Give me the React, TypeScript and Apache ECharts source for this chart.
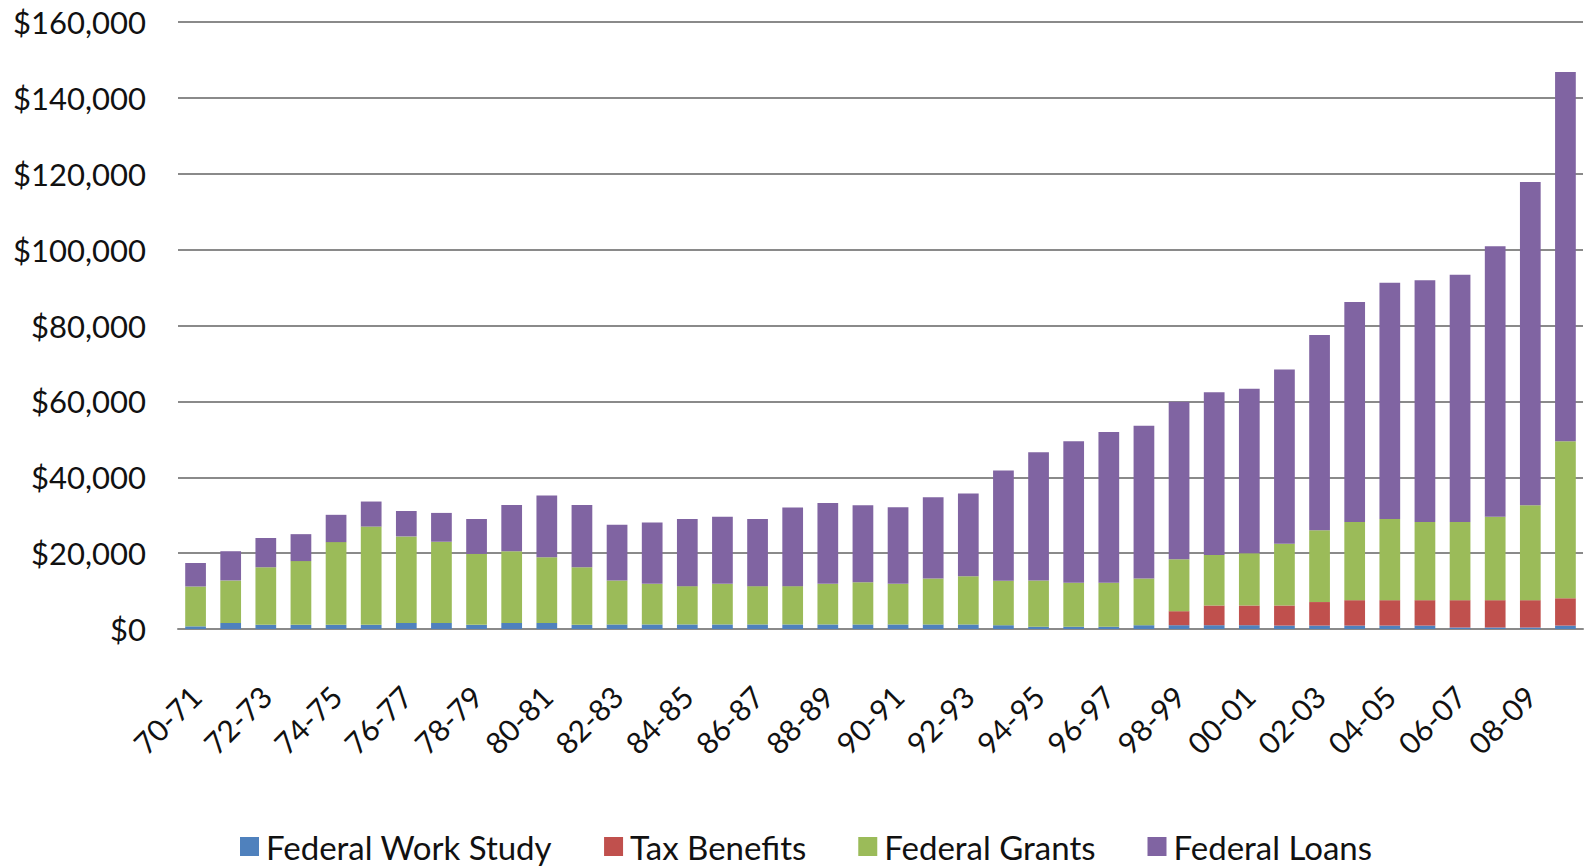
import React, { useEffect, useRef } from "react";
import * as echarts from "echarts";

const categories = [
  "70-71","71-72","72-73","73-74","74-75","75-76","76-77","77-78","78-79","79-80",
  "80-81","81-82","82-83","83-84","84-85","85-86","86-87","87-88","88-89","89-90",
  "90-91","91-92","92-93","93-94","94-95","95-96","96-97","97-98","98-99","99-00",
  "00-01","01-02","02-03","03-04","04-05","05-06","06-07","07-08","08-09","09-10",
];

const workStudy = [
  700,1600,1100,1100,1100,1100,1600,1600,1100,1600,
  1600,1100,1200,1200,1200,1200,1200,1200,1200,1200,
  1200,1200,1200,1000,600,600,600,1000,1000,1000,
  1000,900,900,900,900,900,400,400,400,900,
];

const taxBenefits = [
  0,0,0,0,0,0,0,0,0,0,
  0,0,0,0,0,0,0,0,0,0,
  0,0,0,0,0,0,0,0,3700,5200,
  5200,5300,6200,6700,6700,6700,7200,7200,7200,7200,
];

const federalGrants = [
  10500,11200,15200,16800,21800,25900,22800,21400,18700,18900,
  17300,15200,11600,10700,10100,10700,10100,10100,10700,11100,
  10700,12100,12700,11700,12200,11600,11600,12300,13700,13300,
  13800,16300,18900,20600,21400,20600,20600,22000,25000,41400,
];

const federalLoans = [
  6200,7700,7700,7100,7200,6600,6700,7600,9200,12200,
  16300,16400,14700,16200,17700,17700,17700,20700,21300,20300,
  20200,21400,21800,29100,33800,37300,39700,40300,41500,42900,
  43300,45900,51500,58000,62300,63700,65200,71300,85200,97300,
];

const seriesNames = ["Federal Work Study", "Tax Benefits", "Federal Grants", "Federal Loans"];
const seriesColors = ["#4F81BD", "#C0504D", "#9BBB59", "#8064A2"];

const FONT = "Lato, 'Open Sans', sans-serif";

export default function App() {
  const ref = useRef<HTMLDivElement>(null);

  useEffect(() => {
    if (!ref.current) return;
    const chart = echarts.init(ref.current, undefined, { renderer: "svg" });
    const data = [workStudy, taxBenefits, federalGrants, federalLoans];
    chart.setOption({
      animation: false,
      backgroundColor: "#ffffff",
      grid: { left: 178, right: 6, top: 22, bottom: 237 },
      legend: {
        data: seriesNames,
        left: 240,
        top: 830,
        padding: 0,
        itemWidth: 19,
        itemHeight: 19,
        itemGap: 52,
        icon: "rect",
        textStyle: { fontFamily: FONT, fontSize: 33, color: "#111", padding: [0, 0, 0, 2] },
      },
      xAxis: {
        type: "category",
        data: categories,
        axisLine: { lineStyle: { color: "#8a8a8a", width: 2 } },
        axisTick: { show: false },
        axisLabel: {
          interval: 1,
          rotate: 45,
          margin: 62,
          fontFamily: FONT,
          fontSize: 30,
          color: "#111",
        },
      },
      yAxis: {
        type: "value",
        min: 0,
        max: 160000,
        interval: 20000,
        axisLine: { show: false },
        axisTick: { show: false },
        splitLine: { lineStyle: { color: "#8a8a8a", width: 2 } },
        axisLabel: {
          margin: 32,
          fontFamily: FONT,
          fontSize: 31,
          color: "#111",
          formatter: (v: number) => "$" + v.toLocaleString("en-US"),
        },
      },
      series: seriesNames.map((name, i) => ({
        name,
        type: "bar",
        stack: "total",
        data: data[i],
        barCategoryGap: "41%",
        itemStyle: { color: seriesColors[i] },
      })),
    });
    return () => chart.dispose();
  }, []);

  return (
    <div
      ref={ref}
      style={{ position: "absolute", left: 0, top: 0, width: 1589, height: 866 }}
    />
  );
}
